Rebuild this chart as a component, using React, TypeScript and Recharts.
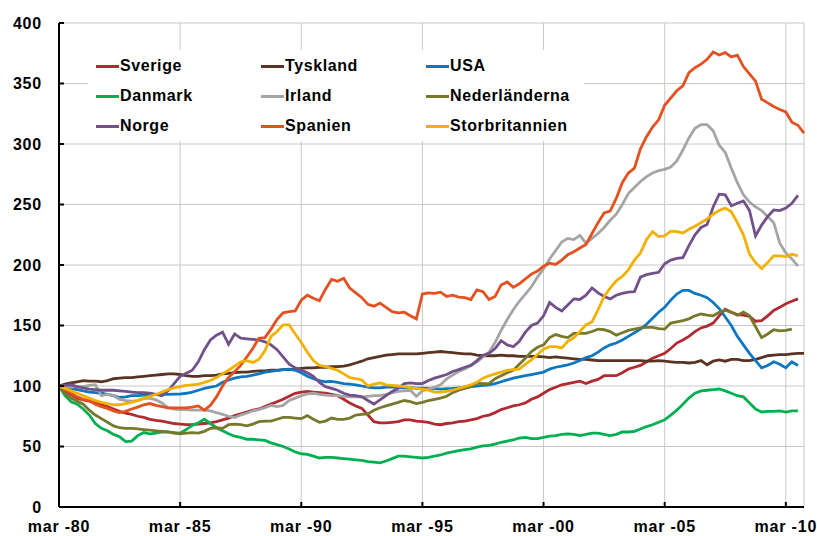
import React from "react";
import { LineChart, Line, XAxis, YAxis, CartesianGrid, Legend } from "recharts";

// Quarterly index (mar-80 = 100), quarter 0 = Q1 1980 ... quarter 123 = Q4 2010
const quarterCount = 124;
const quarters: number[] = Array.from({ length: quarterCount }, (_, i) => i);

const xTicks = [0, 20, 40, 60, 80, 100, 120];
const xTickLabels = ["mar -80", "mar -85", "mar -90", "mar -95", "mar -00", "mar -05", "mar -10"];
const yTicks = [0, 50, 100, 150, 200, 250, 300, 350, 400];

const sverige = [
  100, 96, 93, 90, 88.5, 87.5, 86, 84.5, 83, 81,
  79, 77.5, 76.5, 75, 74, 72.5, 71.5, 71, 70, 69,
  68.5, 68, 68, 68.5, 69, 69.5, 70.5, 72, 73.5, 75.5,
  77, 78.5, 80, 81, 83, 85, 87, 89, 91.5, 94,
  95, 95.5, 95, 94.5, 94, 93, 92, 89, 86, 83.5,
  81.5, 76, 70.5, 69.5, 69.5, 70, 70.5, 72, 72, 71,
  70.5, 70, 68.5, 68, 69, 69.5, 70.5, 71, 72, 73,
  75, 76, 78, 80.5, 82, 83.5, 84.5, 86, 89, 91,
  94, 97, 99, 101, 102, 103, 104, 102, 104, 105.5,
  108.5, 108.5, 108.5, 111, 114, 115.5, 117, 120, 123, 125,
  127, 131, 135.5, 138, 141, 145, 148, 149.5, 152, 158,
  163.5, 161, 159, 158.5, 157.5, 153.5, 154, 158, 162.5, 165,
  168, 170, 172, null,
];

const tyskland = [
  100, 101.5, 102.5, 103.5, 104.5, 104, 104, 103.5, 104.5, 106,
  106.5, 107, 107, 107.5, 108, 108.5, 109, 109.5, 110, 110,
  109.5, 108.5, 108, 108, 108.5, 108.5, 109, 110, 110.5, 111,
  111.5, 111.5, 112, 112.5, 112.5, 113, 113, 113.5, 113.5, 114,
  114.5, 115, 115, 115.5, 115.5, 116, 116, 116.5, 117.5, 119,
  120.5, 122.5, 123.5, 124.5, 125.5, 126, 126.5, 126.5, 126.5, 126.5,
  127, 127.5, 128, 128.5, 128, 127.5, 127, 126.5, 126.5, 125.5,
  125, 125, 125, 125.5, 125, 125, 124.5, 124.5, 124.5, 124.5,
  124, 123.5, 124, 123.5, 123, 122.5, 122, 122, 121.5, 121,
  121, 121, 121, 121, 121, 121, 121, 120.5, 120.5, 121,
  120.5, 120, 119.5, 119.5, 119, 119.5, 121, 117.5, 120.5, 121.5,
  120.5, 122, 122, 121, 121, 122, 123.5, 125, 125.5, 126,
  126, 126.5, 127, 127,
];

const usa = [
  100, 99, 98, 97, 96, 95, 94.5, 94, 93, 92,
  90.5, 91, 92, 92, 92.5, 92.8, 93, 93, 93, 93.3,
  93.3, 94, 95, 96.5, 98, 99, 100, 103, 105, 106.5,
  107.5, 108, 109, 110, 111.5, 112, 113, 113.5, 114, 113,
  111, 108, 106, 104.5, 103.5, 103.8, 103, 102, 101.5, 101,
  100, 99, 98.5, 98.5, 99, 99, 98.8, 98.5, 98.5, 98.3,
  98.3, 98, 97.8, 97.5, 97.8, 98, 98.5, 99, 99.5, 100,
  100.5, 101, 102, 103.5, 105, 106.5, 107.5, 108.5, 109.5, 110.5,
  111.5, 114, 115.5, 116.5, 117.5, 119, 121, 123.5, 125, 128,
  131.5, 134, 135.5, 138, 141, 144, 147, 151, 156, 161,
  165, 171, 176, 179, 179, 176.5, 175, 173, 169, 164,
  157, 150, 141, 134, 127, 121, 115, 117, 120, 118,
  115, 120, 117, null,
];

const danmark = [
  100, 92, 87, 85, 81, 76, 69, 65, 63, 60,
  58, 54, 54.5, 59, 61.5, 60.5, 61, 62, 62, 61.5,
  61, 64, 67.5, 69.5, 72.5, 69, 65.5, 63, 60.5, 58.5,
  57.5, 56, 56, 55.5, 55, 53, 51.5, 50, 48, 45.5,
  44, 43.5, 42, 40.5, 41, 41, 40.5, 40, 39.5, 39,
  38.5, 37.5, 37, 36.5, 38, 40, 42, 42, 41.5, 41,
  40.5, 41, 42, 43, 44.5, 45.5, 46.5, 47.5, 48, 49.5,
  50.5, 51, 52, 53.5, 54.5, 55.5, 57, 57.5, 56.5, 56.5,
  57.5, 58.5, 59, 60, 60.5, 60, 59, 60, 61, 61,
  60, 59, 60, 62, 62, 62.5, 64.5, 66.5, 68, 70,
  72, 76, 80, 85, 90, 94, 96, 96.5, 97, 97.5,
  96, 94, 92, 91, 86, 81, 78.5, 79, 79, 79.5,
  78.5, 79.5, 79.5, null,
];

const irland = [
  100, 99.5, 99, 99.5, 99.5, 100.5, 101, 92, 93, 92,
  89, 88, 87.5, 88, 89.5, 90, 88.5, 86, 82, 81,
  80.5, 80.5, 80, 80, 80, 79.5, 78, 76.5, 75, 74,
  76, 77.5, 79.5, 80.5, 82, 84, 83, 84, 88, 90,
  92, 93.5, 94, 93, 92.5, 92, 92, 91.5, 91, 91,
  91, 91.5, 92, 92, 93, 94.5, 95.5, 96, 96.5, 91.5,
  96, 97.5, 99, 101, 106, 109, 112, 114, 117, 120,
  124, 128, 136, 146, 155, 163, 170, 176, 182, 190,
  197, 205, 212, 219, 222, 221, 224.5, 218, 222, 226,
  231, 237, 242, 250, 259, 264, 269, 273, 276, 278,
  279, 281, 286, 295, 305, 313, 316, 316, 311, 299,
  293, 280, 268, 258, 252, 248, 245, 240, 235, 218,
  210, 205, 199, null,
];

const nederlanderna = [
  100, 94, 90, 87.5, 85, 80, 76, 73, 70, 67,
  65.5, 65, 65, 64.5, 64, 63.5, 63, 62.5, 62, 61,
  60.5, 61, 61.5, 61, 62.5, 65, 65.5, 65, 68, 68.5,
  68, 67, 68.5, 70.5, 71, 71, 72.5, 74, 74, 73.5,
  73, 75.5, 72.5, 70, 71, 73.5, 72.5, 72.5, 73.5, 76,
  76.5, 77, 80, 82, 83.5, 85, 86.5, 88, 87, 85.5,
  86.5, 88, 89, 90, 91.5, 94.5, 96.5, 98, 99.5, 102.5,
  102, 102, 106, 108.5, 111, 113, 118, 123, 128.5, 132,
  134, 140, 142.5, 141, 140, 143.5, 143.5, 143.5, 145, 147,
  146.5, 145, 142, 144, 146, 147, 148, 148.5, 148.5, 147.5,
  147, 152, 153, 154, 155.5, 158, 159.5, 158.5, 158, 161,
  162.5, 161, 158.5, 161, 158, 149, 140, 143, 146.5, 145.5,
  146, 147, null, null,
];

const norge = [
  100, 100.5, 101, 99.5, 98.5, 97.5, 97, 96.5, 96.5, 96.5,
  96, 95.5, 95, 94.5, 94.5, 94, 93, 92, 96, 102,
  108, 110.5, 113, 120, 130, 138, 142, 144.5, 134.5, 143,
  139.5, 139, 138.5, 138, 136.5, 134, 130, 124, 118, 115,
  113, 111, 108, 103, 99.5, 98, 96.5, 94, 92.5, 92,
  91, 88, 85, 88.5, 92, 95.5, 98, 102, 102.5, 102,
  102, 104.5, 106.5, 108, 109.5, 112, 113.5, 115.5, 117, 121,
  125.5, 127, 131, 137.5, 134, 132.5, 137, 144.5, 150, 152,
  158, 169, 165, 162, 167, 172, 171.5, 175, 181, 177,
  174, 172, 175, 176.5, 177.5, 178, 190, 192, 193, 194,
  201, 204, 205.5, 206, 216, 225, 231, 233.5, 248, 258.5,
  258, 249, 251, 253, 245, 224, 233, 240, 245.5, 245,
  247, 251, 257.5, null,
];

const spanien = [
  100, 97, 94, 91, 89, 88, 85, 83, 81.5, 79.5,
  78, 79, 81, 82.5, 84.5, 85.5, 84, 83, 82, 82,
  82, 82, 82.5, 83.5, 80, 84, 91, 100, 107, 112,
  117, 124, 131, 139.5, 140, 147, 155, 160.5, 161.5, 162,
  171, 175, 172.5, 170.5, 180, 188, 186.5, 189, 181, 177,
  173, 167.5, 166, 168.5, 165, 161.5, 160.5, 161, 158, 155.5,
  176, 177, 176.5, 177.5, 174, 175, 173.5, 173, 171.5, 179.5,
  178, 171.5, 174, 183.5, 186, 181.5, 184.5, 188.5, 192.5, 195,
  199, 201.5, 200.5, 204, 208.5, 211, 214, 217, 226, 235,
  243, 244.5, 255, 268, 276, 280, 296, 306, 314, 320,
  332, 338, 344, 348, 359, 363, 366, 370, 376, 373.5,
  375.5, 372, 373.5, 364, 358, 352, 337, 334, 331, 328.5,
  326.5, 318, 315.5, 309,
];

const storbritannien = [
  100, 98, 96, 94, 92, 90, 88, 86.5, 85.5, 84.5,
  84.5, 85.5, 86.5, 88, 90, 91.5, 93, 95, 97, 98.5,
  99.5, 100.5, 101, 101.5, 103, 104.5, 107, 110, 113, 116.5,
  120, 121, 119.5, 122, 129, 141, 145, 150.5, 150.5, 143,
  136, 128, 121, 117, 116, 114.5, 113, 110, 107, 106,
  105, 100, 101.5, 102.5, 101, 100.5, 100, 99.5, 98.5, 98,
  97.5, 96.5, 95, 95, 95.5, 96.5, 98, 99.5, 101, 103,
  106.5, 108.5, 110, 111.5, 113, 113.5, 114, 118, 121.5, 126,
  130.5, 132.5, 132.5, 131.5, 137, 140, 145, 150.5, 153, 163,
  174, 181, 187, 190.5, 196, 204, 210, 221, 227.5, 223.5,
  224, 228, 227.5, 226.5, 229.5, 232, 235, 238, 242, 245,
  247, 244, 235, 225, 209, 202, 197, 202, 207.5, 207.5,
  207, 209, 207.5, null,
];

const series = [
  { key: "sverige", name: "Sverige", color: "#b02a30", values: sverige },
  { key: "tyskland", name: "Tyskland", color: "#5b3322", values: tyskland },
  { key: "usa", name: "USA", color: "#0f77bf", values: usa },
  { key: "danmark", name: "Danmark", color: "#00b050", values: danmark },
  { key: "irland", name: "Irland", color: "#a5a5a5", values: irland },
  { key: "nederlanderna", name: "Nederländerna", color: "#78782c", values: nederlanderna },
  { key: "norge", name: "Norge", color: "#72508a", values: norge },
  { key: "spanien", name: "Spanien", color: "#e4501e", values: spanien },
  { key: "storbritannien", name: "Storbritannien", color: "#f2b100", values: storbritannien },
];

const data = quarters.map((q) => {
  const row: Record<string, number | null> = { q };
  series.forEach((s) => {
    row[s.key] = s.values[q] ?? null;
  });
  return row;
});

const FONT = '"Liberation Sans", Arial, Helvetica, sans-serif';
const textStyle = { fontFamily: FONT, fontWeight: 700, fontSize: 16, letterSpacing: 0.8, fill: "#000" };
const Y_TICK_MARGIN = 17;

const YTick = (props: any) => {
  const { x, y, payload } = props;
  const ax = x + Y_TICK_MARGIN;
  return (
    <g>
      <line x1={ax} x2={ax + 5} y1={y} y2={y} stroke="#000" strokeWidth={2} />
      <text x={x} y={y} textAnchor="end" dominantBaseline="central" style={textStyle}>
        {payload.value}
      </text>
    </g>
  );
};

const XTick = (props: any) => {
  const { x, y, payload } = props;
  const idx = xTicks.indexOf(payload.value);
  return (
    <g>
      <line x1={x} x2={x} y1={y} y2={y - 5} stroke="#000" strokeWidth={2} />
      <text x={x} y={y + 25} textAnchor="middle" style={textStyle}>
        {xTickLabels[idx]}
      </text>
    </g>
  );
};

// legend grid: 3 columns x 3 rows, filled row by row
const legendCols = [8, 173, 338];
const legendRows = [6, 36, 66];

const LegendContent = () => (
  <div style={{ position: "relative", width: 496, height: 91, background: "#fff" }}>
    {series.map((s, i) => (
      <div
        key={s.key}
        style={{
          position: "absolute",
          left: legendCols[i % 3],
          top: legendRows[Math.floor(i / 3)],
          height: 20,
          display: "flex",
          alignItems: "center",
          whiteSpace: "nowrap",
        }}
      >
        <span style={{ display: "inline-block", width: 23, height: 3, background: s.color }} />
        <span
          style={{
            marginLeft: 1,
            fontFamily: FONT,
            fontWeight: 700,
            fontSize: 16,
            letterSpacing: 0.6,
            color: "#000",
            lineHeight: "20px",
          }}
        >
          {s.name}
        </span>
      </div>
    ))}
  </div>
);

export default function App() {
  return (
    <div style={{ position: "absolute", left: 0, top: 0, width: 817, height: 536, background: "#fff" }}>
      <LineChart width={817} height={536} data={data} margin={{ top: 23, right: 13, bottom: 0, left: 0 }}>
        <CartesianGrid stroke="#c8c8c8" strokeWidth={1} />
        <XAxis
          dataKey="q"
          type="number"
          domain={[0, quarterCount - 1]}
          ticks={xTicks}
          interval={0}
          height={29}
          tickSize={0}
          tickMargin={0}
          tickLine={false}
          axisLine={{ stroke: "#000", strokeWidth: 2 }}
          tick={<XTick />}
        />
        <YAxis
          type="number"
          domain={[0, 400]}
          ticks={yTicks}
          interval={0}
          width={59}
          tickSize={0}
          tickMargin={Y_TICK_MARGIN}
          tickLine={false}
          axisLine={{ stroke: "#000", strokeWidth: 2 }}
          tick={<YTick />}
        />
        <Legend
          layout="horizontal"
          verticalAlign="middle"
          align="center"
          content={<LegendContent />}
          wrapperStyle={{ left: 88, top: 50, width: 496, height: 91 }}
        />
        {series.map((s) => (
          <Line
            key={s.key}
            type="linear"
            dataKey={s.key}
            name={s.name}
            stroke={s.color}
            strokeWidth={2.8}
            dot={false}
            activeDot={false}
            isAnimationActive={false}
            connectNulls={false}
          />
        ))}
      </LineChart>
    </div>
  );
}
